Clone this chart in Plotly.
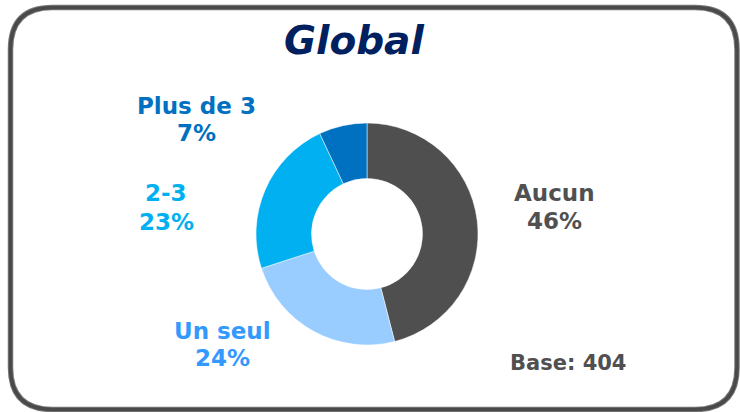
import plotly.graph_objects as go

categories = ["Aucun", "Un seul", "2-3", "Plus de 3"]
values = [46, 24, 23, 7]
slice_colors = ["#4F4F4F", "#99CCFF", "#00B0F0", "#0070C0"]
label_colors = ["#505050", "#3399FF", "#00B0F0", "#0070C0"]
# pixel centers of (name line, percent line)
label_pos = [(554, 193, 221), (223, 331, 358), (166, 193, 222), (196, 106, 133)]
title_text = "Global"
base_text = "Base: 404"

W, H = 740, 412

def px(x):
    return x / W

def py(y):
    return 1 - y / H

fig = go.Figure()
fig.add_trace(go.Pie(
    labels=categories, values=values, hole=0.5, sort=False, direction="clockwise",
    rotation=0, marker=dict(colors=slice_colors, line=dict(color="white", width=0.5)),
    textinfo="none", hoverinfo="label+percent", showlegend=False,
    domain=dict(x=[px(256), px(478)], y=[py(345), py(123)]),
))

annotations = []
for cat, v, col, (x, y1, y2) in zip(categories, values, label_colors, label_pos):
    for txt, yy in ((cat, y1), (f"{v}%", y2)):
        annotations.append(dict(
            x=px(x), y=py(yy), xref="paper", yref="paper", showarrow=False,
            xanchor="center", yanchor="middle",
            text=f"<b>{txt}</b>",
            font=dict(family="DejaVu Sans", size=23, color=col),
        ))
annotations.append(dict(
    x=px(354), y=py(41), xref="paper", yref="paper", showarrow=False,
    xanchor="center", yanchor="middle",
    text=f"<b><i>{title_text}</i></b>",
    font=dict(family="DejaVu Sans", size=39, color="#002060"),
))
annotations.append(dict(
    x=px(568), y=py(363), xref="paper", yref="paper", showarrow=False,
    xanchor="center", yanchor="middle",
    text=f"<b>{base_text}</b>",
    font=dict(family="DejaVu Sans", size=21, color="#505050"),
))

def rrect(x0, y0, x1, y1, r):
    X0, X1 = px(x0), px(x1)
    Y0, Y1 = py(y0), py(y1)
    rx, ry = r / W, r / H
    return (f"M {X0+rx},{Y0} L {X1-rx},{Y0} Q {X1},{Y0} {X1},{Y0-ry} "
            f"L {X1},{Y1+ry} Q {X1},{Y1} {X1-rx},{Y1} "
            f"L {X0+rx},{Y1} Q {X0},{Y1} {X0},{Y1+ry} "
            f"L {X0},{Y0-ry} Q {X0},{Y0} {X0+rx},{Y0} Z")

shapes = [
    dict(type="path", xref="paper", yref="paper", path=rrect(10.5, 7.5, 737, 409.5, 42),
         line=dict(color="#7a7a7a", width=5.5)),
    dict(type="path", xref="paper", yref="paper", path=rrect(10.5, 7.5, 737, 409.5, 42),
         line=dict(color="#4A4A4A", width=3.5)),
]

fig.update_layout(
    width=W, height=H, margin=dict(l=0, r=0, t=0, b=0),
    paper_bgcolor="white", plot_bgcolor="white",
    annotations=annotations, shapes=shapes,
)
fig.write_html("out.html", config={"displayModeBar": False},
               post_script="document.body.style.margin='0';")
